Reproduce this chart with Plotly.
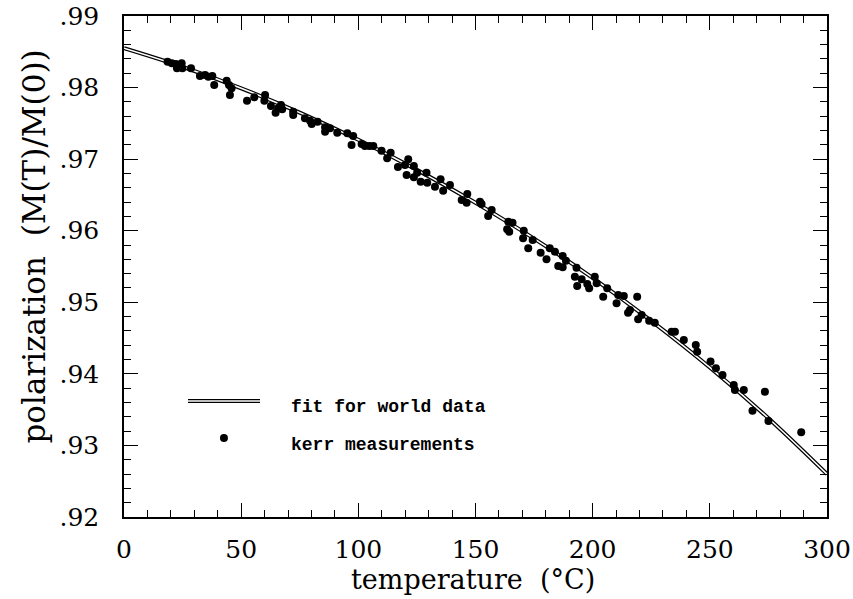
import plotly.graph_objects as go

# fit for world data
fit_T = [0, 25, 50, 75, 100, 125, 150, 175, 200, 225, 250, 275, 300]
fit_P = [0.9855, 0.9829, 0.9799, 0.9765, 0.9727, 0.9685, 0.9639, 0.9589,
         0.9534, 0.9474, 0.9409, 0.9338, 0.9260]

kerr_T = [18.6, 20.4, 22.1, 22.6, 23.2, 24.6, 24.9, 28.6, 32.4, 34.6, 36.0, 37.7,
          38.5, 43.8, 44.8, 45.9, 45.2, 52.5, 55.6, 60.2, 59.9, 62.7, 64.7, 65.8,
          67.0, 67.5, 72.2, 72.2, 77.2, 79.4, 80.1, 82.6, 85.8, 85.8, 87.9, 91.0,
          95.3, 97.8, 97.1, 101.4, 102.8, 104.7, 106.4, 109.9, 113.8, 112.3, 116.9,
          121.3, 119.9, 120.6, 123.7, 125.1, 123.7, 129.1, 126.6, 129.4, 132.7,
          135.1, 136.2, 139.1, 146.5, 144.1, 146.2, 151.9, 152.6, 156.9, 155.4,
          164.0, 165.8, 163.5, 164.4, 170.6, 170.3, 174.4, 172.5, 177.8, 181.7,
          183.9, 180.3, 187.2, 188.6, 185.3, 187.2, 193.1, 192.4, 195.3, 193.4,
          197.7, 200.9, 201.7, 198.5, 206.2, 204.5, 210.9, 213.3, 210.2, 219.0,
          215.9, 215.1, 220.9, 219.4, 224.1, 226.5, 233.7, 235.1, 238.9, 244.0,
          244.6, 250.3, 252.6, 255.4, 260.2, 260.7, 264.5, 273.5, 268.2, 275.0,
          289.0]
kerr_P = [0.98362, 0.98339, 0.98329, 0.98269, 0.98315, 0.98339, 0.98269, 0.98269,
          0.98162, 0.98176, 0.98152, 0.98162, 0.98036, 0.98096, 0.98036, 0.97990,
          0.97896, 0.97817, 0.97864, 0.97896, 0.97817, 0.97743, 0.97649, 0.97711,
          0.97757, 0.97697, 0.97663, 0.97617, 0.97571, 0.97537, 0.97491, 0.97523,
          0.97445, 0.97384, 0.97431, 0.97370, 0.97361, 0.97324, 0.97198, 0.97212,
          0.97184, 0.97184, 0.97184, 0.97118, 0.97090, 0.97012, 0.96891, 0.96998,
          0.96918, 0.96779, 0.96904, 0.96811, 0.96747, 0.96811, 0.96685, 0.96671,
          0.96615, 0.96719, 0.96560, 0.96639, 0.96513, 0.96430, 0.96392, 0.96406,
          0.96374, 0.96290, 0.96206, 0.96126, 0.96112, 0.96020, 0.95987, 0.96001,
          0.95894, 0.95871, 0.95755, 0.95693, 0.95755, 0.95707, 0.95601, 0.95647,
          0.95582, 0.95507, 0.95489, 0.95484, 0.95358, 0.95322, 0.95228, 0.95256,
          0.95358, 0.95266, 0.95196, 0.95196, 0.95079, 0.95102, 0.95088, 0.94986,
          0.95079, 0.94893, 0.94855, 0.94823, 0.94763, 0.94743, 0.94715, 0.94590,
          0.94590, 0.94474, 0.94404, 0.94310, 0.94171, 0.94078, 0.93985, 0.93845,
          0.93775, 0.93775, 0.93751, 0.93486, 0.93342, 0.93184]

x_ticks = [0, 50, 100, 150, 200, 250, 300]
y_ticks = [0.92, 0.93, 0.94, 0.95, 0.96, 0.97, 0.98, 0.99]
y_labels = [".92", ".93", ".94", ".95", ".96", ".97", ".98", ".99"]

legend_labels = ["fit for world data", "kerr measurements"]

serif = "DejaVu Serif"
mono = "Liberation Mono"

fig = go.Figure()
fig.add_trace(go.Scatter(x=fit_T, y=fit_P, mode="lines", line=dict(color="black", width=4, shape="spline"),
                         showlegend=False, hoverinfo="skip"))
fig.add_trace(go.Scatter(x=fit_T, y=fit_P, mode="lines", line=dict(color="white", width=1.6, shape="spline"),
                         showlegend=False, hoverinfo="skip"))
fig.add_trace(go.Scatter(x=kerr_T, y=kerr_P, mode="markers",
                         marker=dict(color="black", size=8, line=dict(width=0)),
                         showlegend=False))

axis_common = dict(showgrid=False, zeroline=False, showline=True, linecolor="black", linewidth=1.5,
                   mirror="ticks", ticks="inside", tickcolor="black", tickwidth=1.2, ticklen=14,
                   automargin=False,
                   tickfont=dict(family=serif, size=25, color="black"))

fig.update_xaxes(range=[0, 300], tickvals=x_ticks, ticktext=[str(v) for v in x_ticks],
                 minor=dict(dtick=10, ticks="inside", ticklen=7, tickcolor="black", tickwidth=1.2),
                 ticklabelstandoff=9, **axis_common)
fig.update_yaxes(range=[0.92, 0.99], tickvals=y_ticks, ticktext=y_labels,
                 minor=dict(dtick=0.002, ticks="inside", ticklen=7, tickcolor="black", tickwidth=1.2),
                 ticklabelstandoff=18, **axis_common)

# legend drawn by hand
fig.add_shape(type="line", xref="paper", yref="paper", x0=0.091, x1=0.1935, y0=0.2315, y1=0.2315,
              line=dict(color="black", width=4))
fig.add_shape(type="line", xref="paper", yref="paper", x0=0.091, x1=0.1935, y0=0.2315, y1=0.2315,
              line=dict(color="white", width=1.6))
fig.add_shape(type="circle", xref="paper", yref="paper", xsizemode="pixel", ysizemode="pixel",
              xanchor=0.1422, yanchor=0.1577, x0=-4, x1=4, y0=-4, y1=4,
              fillcolor="black", line=dict(width=0))
for lbl, yy in zip(legend_labels, [0.2202, 0.1437]):
    fig.add_annotation(text=lbl, xref="paper", yref="paper", x=0.2347, y=yy, xanchor="left",
                       yanchor="middle", showarrow=False,
                       font=dict(family=mono, size=18, color="black", weight="bold"))

# axis titles
fig.add_annotation(text="temperature\u00a0\u00a0(°C)", xref="paper", yref="paper", x=0.497, y=-0.1257,
                   xanchor="center", yanchor="middle", showarrow=False,
                   font=dict(family=serif, size=27, color="black"))
fig.add_annotation(text="polarization\u00a0\u00a0(M(T)/M(0))", xref="paper", yref="paper",
                   x=-0.128, y=0.54, xanchor="center", yanchor="middle", textangle=-90,
                   showarrow=False, font=dict(family=serif, size=31, color="black"))

fig.update_layout(width=853, height=599, margin=dict(l=124, r=26, t=16, b=82),
                  plot_bgcolor="white", paper_bgcolor="white")

fig.write_html("out.html")
